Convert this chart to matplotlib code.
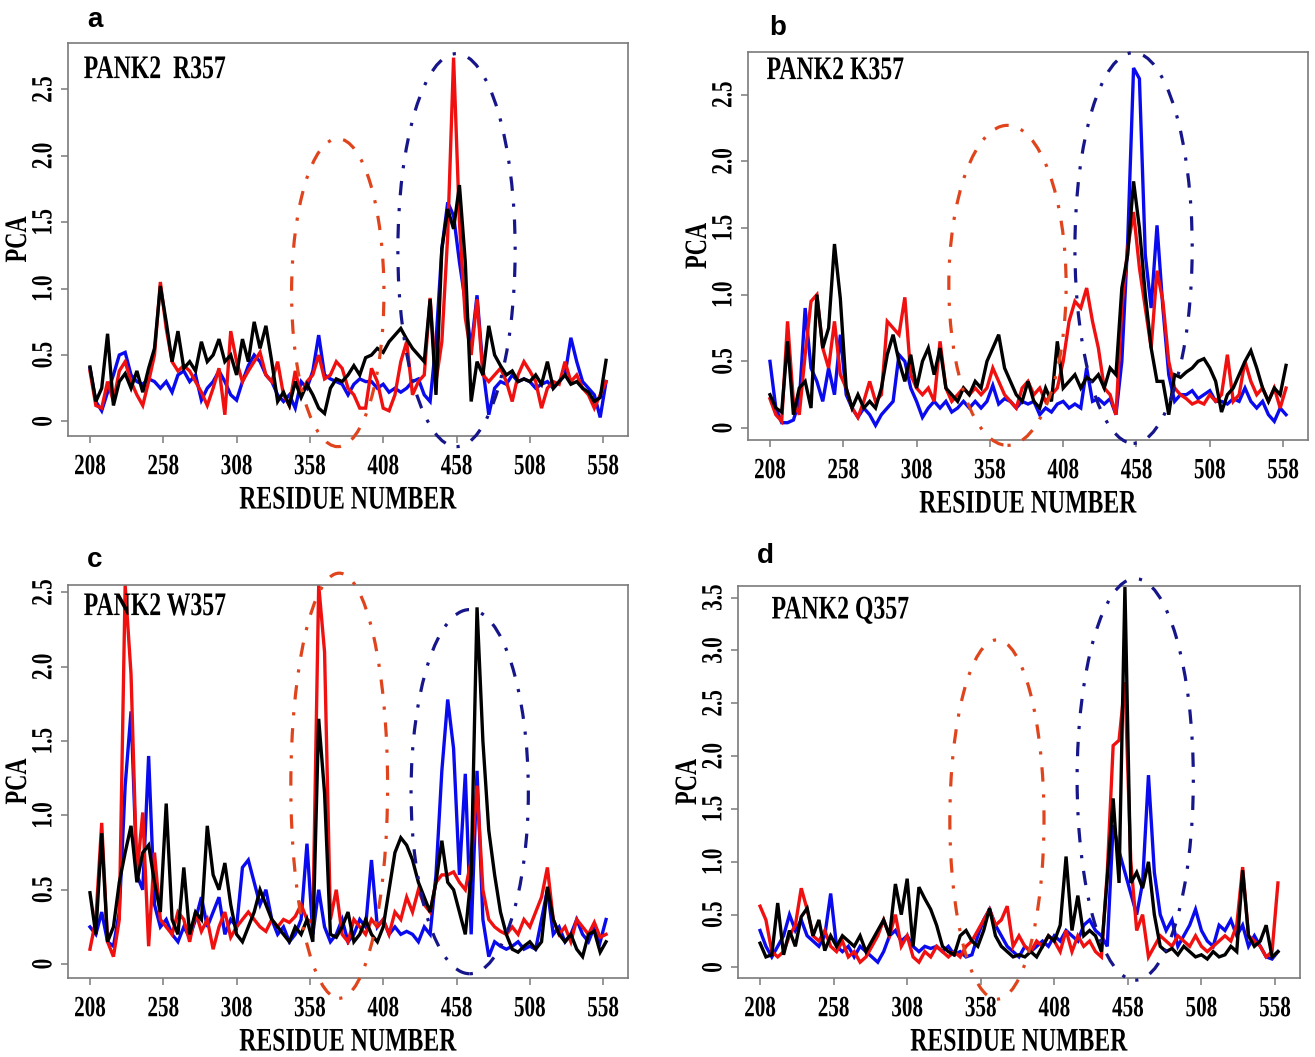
import numpy as np
import matplotlib.pyplot as plt
from matplotlib.patches import Ellipse
from matplotlib.transforms import Affine2D
from matplotlib import patheffects

# residue grid shared by all traces (every 4th residue)
residue = np.arange(208, 561, 4)

# PANK2 R357
a_blue = [0.40, 0.15, 0.08, 0.22, 0.35, 0.50, 0.52, 0.35, 0.30, 0.28,
          0.32, 0.30, 0.25, 0.30, 0.22, 0.35, 0.38, 0.30, 0.35, 0.16,
          0.25, 0.30, 0.38, 0.30, 0.20, 0.16, 0.30, 0.42, 0.50, 0.45,
          0.35, 0.30, 0.20, 0.15, 0.20, 0.10, 0.30, 0.25, 0.38, 0.65,
          0.35, 0.32, 0.30, 0.28, 0.20, 0.28, 0.32, 0.30, 0.30, 0.25,
          0.28, 0.22, 0.25, 0.22, 0.25, 0.30, 0.32, 0.20, 0.15, 0.60,
          1.30, 1.65, 1.55, 1.20, 0.90, 0.55, 0.95, 0.40, 0.05, 0.25,
          0.30, 0.28, 0.35, 0.30, 0.32, 0.30, 0.25, 0.28, 0.30, 0.25,
          0.30, 0.35, 0.63, 0.45, 0.30, 0.25, 0.20, 0.03, 0.30]
a_red = [0.38, 0.12, 0.10, 0.30, 0.15, 0.38, 0.45, 0.30, 0.20, 0.12,
         0.30, 0.50, 1.05, 0.70, 0.45, 0.38, 0.42, 0.38, 0.30, 0.22,
         0.12, 0.25, 0.40, 0.05, 0.68, 0.45, 0.30, 0.38, 0.45, 0.52,
         0.35, 0.30, 0.45, 0.20, 0.12, 0.38, 0.20, 0.30, 0.35, 0.50,
         0.32, 0.35, 0.45, 0.40, 0.25, 0.20, 0.10, 0.10, 0.40, 0.30,
         0.10, 0.08, 0.20, 0.45, 0.60, 0.20, 0.30, 0.35, 0.93, 0.30,
         0.60, 1.40, 2.74, 1.50, 0.78, 0.50, 0.92, 0.35, 0.30, 0.35,
         0.40, 0.30, 0.15, 0.35, 0.45, 0.38, 0.30, 0.10, 0.25, 0.30,
         0.28, 0.45, 0.30, 0.35, 0.25, 0.20, 0.10, 0.20, 0.30]
a_black = [0.41, 0.15, 0.25, 0.66, 0.12, 0.30, 0.36, 0.25, 0.38, 0.22,
           0.40, 0.55, 1.02, 0.75, 0.45, 0.68, 0.40, 0.45, 0.38, 0.60,
           0.45, 0.50, 0.62, 0.45, 0.50, 0.35, 0.62, 0.45, 0.75, 0.55,
           0.72, 0.45, 0.15, 0.22, 0.12, 0.30, 0.18, 0.28, 0.20, 0.10,
           0.06, 0.25, 0.32, 0.30, 0.35, 0.42, 0.35, 0.48, 0.50, 0.55,
           0.52, 0.60, 0.65, 0.70, 0.62, 0.55, 0.50, 0.45, 0.92, 0.20,
           1.30, 1.60, 1.45, 1.78, 1.20, 0.15, 0.45, 0.35, 0.72, 0.50,
           0.42, 0.35, 0.38, 0.30, 0.32, 0.30, 0.35, 0.28, 0.45, 0.25,
           0.30, 0.35, 0.28, 0.30, 0.25, 0.22, 0.15, 0.18, 0.46]

# PANK2 K357
b_blue = [0.50, 0.15, 0.04, 0.04, 0.06, 0.20, 0.90, 0.45, 0.35, 0.20,
          0.45, 0.25, 0.70, 0.25, 0.15, 0.08, 0.15, 0.10, 0.02, 0.10,
          0.15, 0.20, 0.55, 0.50, 0.30, 0.20, 0.08, 0.15, 0.20, 0.15,
          0.20, 0.12, 0.15, 0.20, 0.15, 0.20, 0.15, 0.20, 0.32, 0.18,
          0.22, 0.20, 0.15, 0.20, 0.18, 0.20, 0.10, 0.15, 0.12, 0.18,
          0.20, 0.15, 0.18, 0.15, 0.45, 0.20, 0.22, 0.18, 0.22, 0.10,
          0.50, 1.40, 2.70, 2.62, 1.30, 0.90, 1.52, 0.90, 0.40, 0.20,
          0.25, 0.25, 0.28, 0.22, 0.25, 0.28, 0.20, 0.20, 0.18, 0.22,
          0.20, 0.30, 0.20, 0.15, 0.20, 0.10, 0.05, 0.15, 0.10]
b_red = [0.22, 0.10, 0.05, 0.80, 0.20, 0.10, 0.55, 0.95, 1.00, 0.60,
         0.45, 0.80, 0.40, 0.30, 0.15, 0.08, 0.20, 0.35, 0.20, 0.25,
         0.80, 0.75, 0.70, 0.98, 0.40, 0.30, 0.25, 0.30, 0.20, 0.65,
         0.30, 0.20, 0.25, 0.30, 0.25, 0.30, 0.25, 0.30, 0.45, 0.35,
         0.25, 0.20, 0.15, 0.30, 0.35, 0.25, 0.30, 0.20, 0.25, 0.30,
         0.50, 0.80, 0.95, 0.90, 1.05, 0.80, 0.60, 0.30, 0.25, 0.10,
         0.90, 1.35, 1.62, 1.20, 0.90, 0.60, 1.18, 0.95, 0.50, 0.30,
         0.25, 0.22, 0.18, 0.20, 0.18, 0.25, 0.20, 0.25, 0.55, 0.20,
         0.25, 0.50, 0.35, 0.25, 0.30, 0.20, 0.30, 0.15, 0.30]
b_black = [0.25, 0.15, 0.12, 0.65, 0.10, 0.30, 0.35, 0.15, 1.00, 0.60,
           0.75, 1.38, 0.97, 0.30, 0.15, 0.25, 0.15, 0.20, 0.15, 0.30,
           0.55, 0.70, 0.50, 0.35, 0.55, 0.30, 0.50, 0.60, 0.40, 0.60,
           0.30, 0.25, 0.20, 0.30, 0.25, 0.35, 0.30, 0.50, 0.60, 0.70,
           0.45, 0.35, 0.25, 0.20, 0.35, 0.20, 0.15, 0.30, 0.20, 0.65,
           0.30, 0.35, 0.40, 0.30, 0.38, 0.35, 0.40, 0.30, 0.45, 0.40,
           1.05, 1.30, 1.85, 1.50, 1.00, 0.60, 0.35, 0.35, 0.10, 0.40,
           0.38, 0.42, 0.45, 0.50, 0.52, 0.45, 0.35, 0.12, 0.25, 0.30,
           0.40, 0.50, 0.58, 0.45, 0.30, 0.20, 0.30, 0.25, 0.47]

# PANK2 W357
c_blue = [0.25, 0.20, 0.35, 0.15, 0.12, 0.35, 1.20, 1.70, 0.60, 0.50,
          1.40, 0.40, 0.25, 0.30, 0.20, 0.15, 0.25, 0.18, 0.30, 0.45,
          0.25, 0.35, 0.45, 0.20, 0.30, 0.25, 0.65, 0.70, 0.55, 0.40,
          0.50, 0.30, 0.20, 0.25, 0.15, 0.20, 0.30, 0.81, 0.20, 0.50,
          0.25, 0.15, 0.20, 0.30, 0.15, 0.20, 0.30, 0.25, 0.70, 0.25,
          0.30, 0.20, 0.25, 0.20, 0.22, 0.20, 0.15, 0.25, 0.20, 0.60,
          1.30, 1.78, 1.45, 0.60, 1.28, 0.20, 1.30, 0.30, 0.05, 0.15,
          0.12, 0.10, 0.12, 0.15, 0.10, 0.12, 0.10, 0.30, 0.50, 0.20,
          0.25, 0.15, 0.20, 0.30, 0.20, 0.15, 0.25, 0.15, 0.30]
c_red = [0.10, 0.30, 0.95, 0.15, 0.05, 0.30, 2.55, 1.95, 0.60, 1.02,
         0.12, 0.75, 0.30, 0.25, 0.20, 0.35, 0.30, 0.15, 0.35, 0.22,
         0.30, 0.10, 0.25, 0.35, 0.18, 0.25, 0.30, 0.35, 0.30, 0.25,
         0.22, 0.30, 0.25, 0.30, 0.28, 0.32, 0.40, 0.30, 0.28, 2.55,
         2.10, 0.30, 0.50, 0.20, 0.15, 0.30, 0.25, 0.20, 0.30, 0.25,
         0.30, 0.20, 0.35, 0.30, 0.45, 0.35, 0.50, 0.40, 0.35, 0.55,
         0.60, 0.60, 0.62, 0.55, 0.50, 0.70, 1.20, 0.50, 0.30, 0.25,
         0.22, 0.20, 0.25, 0.20, 0.30, 0.25, 0.35, 0.45, 0.65, 0.30,
         0.20, 0.25, 0.15, 0.30, 0.25, 0.20, 0.28, 0.18, 0.20]
c_black = [0.48, 0.20, 0.88, 0.15, 0.25, 0.55, 0.75, 0.93, 0.55, 0.75,
           0.80, 0.55, 0.35, 1.08, 0.30, 0.20, 0.65, 0.20, 0.35, 0.30,
           0.93, 0.60, 0.50, 0.68, 0.40, 0.20, 0.15, 0.25, 0.35, 0.50,
           0.40, 0.30, 0.25, 0.20, 0.15, 0.25, 0.20, 0.30, 0.15, 1.65,
           1.15, 0.20, 0.18, 0.25, 0.35, 0.15, 0.20, 0.30, 0.20, 0.15,
           0.25, 0.50, 0.75, 0.85, 0.80, 0.70, 0.55, 0.45, 0.35, 0.55,
           0.83, 0.55, 0.50, 0.35, 0.20, 0.60, 2.40, 1.50, 0.90, 0.60,
           0.35, 0.20, 0.10, 0.08, 0.12, 0.15, 0.10, 0.15, 0.52, 0.30,
           0.20, 0.15, 0.20, 0.10, 0.05, 0.20, 0.22, 0.08, 0.15]

# PANK2 Q357
d_blue = [0.35, 0.20, 0.10, 0.20, 0.30, 0.50, 0.35, 0.45, 0.30, 0.25,
          0.20, 0.30, 0.70, 0.20, 0.15, 0.20, 0.10, 0.20, 0.15, 0.10,
          0.05, 0.15, 0.30, 0.35, 0.25, 0.30, 0.20, 0.15, 0.20, 0.18,
          0.20, 0.15, 0.20, 0.12, 0.15, 0.10, 0.12, 0.30, 0.45, 0.55,
          0.40, 0.30, 0.20, 0.15, 0.10, 0.20, 0.15, 0.20, 0.25, 0.20,
          0.30, 0.25, 0.35, 0.30, 0.25, 0.40, 0.45, 0.35, 0.30, 0.20,
          1.35, 1.10, 0.90, 0.70, 0.50, 0.80, 1.82, 0.90, 0.50, 0.35,
          0.45, 0.20, 0.30, 0.40, 0.55, 0.35, 0.25, 0.20, 0.40, 0.35,
          0.45, 0.30, 0.40, 0.20, 0.30, 0.20, 0.10, 0.08, 0.15]
d_red = [0.58, 0.45, 0.15, 0.10, 0.15, 0.30, 0.40, 0.75, 0.55, 0.30,
         0.25, 0.35, 0.20, 0.15, 0.25, 0.10, 0.15, 0.05, 0.10, 0.20,
         0.30, 0.45, 0.30, 0.50, 0.20, 0.30, 0.10, 0.05, 0.15, 0.10,
         0.20, 0.15, 0.10, 0.15, 0.10, 0.20, 0.25, 0.35, 0.45, 0.55,
         0.40, 0.45, 0.58, 0.20, 0.30, 0.20, 0.15, 0.25, 0.20, 0.30,
         0.25, 0.15, 0.35, 0.15, 0.30, 0.20, 0.25, 0.15, 0.10, 0.90,
         2.10, 2.15, 2.70, 1.00, 0.35, 0.50, 0.10, 0.20, 0.30, 0.25,
         0.20, 0.30, 0.25, 0.20, 0.30, 0.20, 0.15, 0.20, 0.25, 0.30,
         0.25, 0.40, 0.95, 0.30, 0.25, 0.20, 0.10, 0.15, 0.80]
d_black = [0.23, 0.10, 0.12, 0.61, 0.12, 0.35, 0.20, 0.48, 0.56, 0.30,
           0.45, 0.16, 0.30, 0.20, 0.30, 0.25, 0.20, 0.30, 0.15, 0.25,
           0.35, 0.45, 0.30, 0.79, 0.50, 0.84, 0.20, 0.76, 0.65, 0.55,
           0.40, 0.20, 0.15, 0.12, 0.30, 0.35, 0.25, 0.20, 0.35, 0.56,
           0.30, 0.20, 0.15, 0.10, 0.12, 0.10, 0.15, 0.10, 0.20, 0.30,
           0.25, 0.40, 1.05, 0.35, 0.68, 0.30, 0.35, 0.30, 0.15, 0.85,
           1.60, 0.80, 3.60, 0.80, 0.90, 0.75, 1.00, 0.50, 0.20, 0.15,
           0.18, 0.12, 0.20, 0.15, 0.10, 0.12, 0.08, 0.15, 0.10, 0.12,
           0.20, 0.15, 0.92, 0.30, 0.20, 0.25, 0.40, 0.10, 0.15]

panel_letters = ['a', 'b', 'c', 'd']
panel_titles = ['PANK2  R357', 'PANK2 K357', 'PANK2 W357', 'PANK2 Q357']
xticks = [208, 258, 308, 358, 408, 458, 508, 558]

BLUE, RED, BLACK = '#0a0aee', '#f01010', '#000000'
ELL_RED, ELL_BLUE = '#e0441c', '#16168a'
serif = 'Liberation Serif'


class Condensed(patheffects.AbstractPathEffect):
    """Squeeze glyphs horizontally / stretch vertically about their centre."""

    def __init__(self, sx=0.95, sy=1.3):
        super().__init__()
        self.sx, self.sy = sx, sy

    def draw_path(self, renderer, gc, tpath, affine, rgbFace=None):
        ext = tpath.get_extents()
        cx = ext.x0 + ext.width / 2
        cy = ext.y0 + ext.height / 2
        t = (Affine2D().translate(-cx, -cy).scale(self.sx, self.sy)
             .translate(cx, cy) + affine)
        renderer.draw_path(gc, tpath, t, rgbFace)


cond = [Condensed(0.95, 1.32)]

panels = [
    dict(data=(a_blue, a_red, a_black), ylim=(-0.11, 2.85), ymax=2.5,
         rect=[0.0517, 0.5875, 0.4259, 0.3718],
         ell=[(377, 0.97, 63, 2.32, ELL_RED), (458, 1.29, 80, 2.96, ELL_BLUE)],
         letter_xy=(95, 20), title_xy=(80, 69)),
    dict(data=(b_blue, b_red, b_black), ylim=(-0.09, 2.82), ymax=2.5,
         rect=[0.5688, 0.5837, 0.4259, 0.3671],
         ell=[(370, 1.07, 80, 2.40, ELL_RED), (456, 1.35, 80, 2.93, ELL_BLUE)],
         letter_xy=(778, 28), title_xy=(763, 70)),
    dict(data=(c_blue, c_red, c_black), ylim=(-0.094, 2.55), ymax=2.5,
         rect=[0.0517, 0.0747, 0.4259, 0.3718],
         ell=[(378, 1.20, 66, 2.86, ELL_RED), (467, 1.16, 80, 2.45, ELL_BLUE)],
         letter_xy=(95, 560), title_xy=(80, 606)),
    dict(data=(d_blue, d_red, d_black), ylim=(-0.10, 3.61), ymax=3.5,
         rect=[0.5612, 0.0747, 0.4274, 0.3709],
         ell=[(369, 1.40, 64, 3.40, ELL_RED), (463, 1.78, 79, 3.80, ELL_BLUE)],
         letter_xy=(765, 556), title_xy=(768, 610)),
]

W, H = 1315, 1057
fig = plt.figure(figsize=(W / 100, H / 100), dpi=100)

for letter, title, p in zip(panel_letters, panel_titles, panels):
    ax = fig.add_axes(p['rect'])
    for series, col in zip(p['data'], (BLUE, RED, BLACK)):
        ax.plot(residue, series, color=col, lw=2.4, solid_joinstyle='miter')

    for cx, cy, w, h, col in p['ell']:
        ax.add_patch(Ellipse((cx, cy), w, h, fill=False, edgecolor=col,
                             lw=2.3, linestyle=(0, (1, 4, 4.5, 4)),
                             clip_on=False, zorder=5))

    ax.set_xlim(193, 575)
    ax.set_ylim(*p['ylim'])
    ax.set_xticks(xticks)
    yt = np.arange(0, p['ymax'] + 0.01, 0.5)
    ax.set_yticks(yt)
    ax.set_yticklabels(['0' if v == 0 else f'{v:.1f}' for v in yt])

    for s in ax.spines.values():
        s.set_color('#7a7a7a')
        s.set_linewidth(1.2)
    ax.tick_params(axis='both', direction='out', length=5, width=1.1,
                   color='#7a7a7a', labelsize=16)
    ax.tick_params(axis='x', pad=10)
    ax.tick_params(axis='y', pad=5, labelrotation=90)
    for lab in ax.get_xticklabels() + ax.get_yticklabels():
        lab.set_fontfamily(serif)
        lab.set_fontweight('bold')
        lab.set_path_effects(cond)
    for lab in ax.get_yticklabels():
        lab.set_verticalalignment('center')

    ax.set_xlabel('RESIDUE NUMBER', fontsize=18, fontweight='bold',
                  family=serif, labelpad=8, path_effects=cond)
    ax.set_ylabel('PCA', fontsize=17, fontweight='bold', family=serif,
                  labelpad=4, path_effects=cond)

    tx, ty = p['title_xy']
    fig.text(tx / W, 1 - ty / H, title, fontsize=18, fontweight='bold',
             family=serif, ha='left', va='center', path_effects=cond)
    lx, ly = p['letter_xy']
    fig.text(lx / W, 1 - ly / H, letter, fontsize=20, fontweight='bold',
             family='Liberation Sans', ha='center', va='center')

fig.savefig('out.png', dpi=100, facecolor='white')
